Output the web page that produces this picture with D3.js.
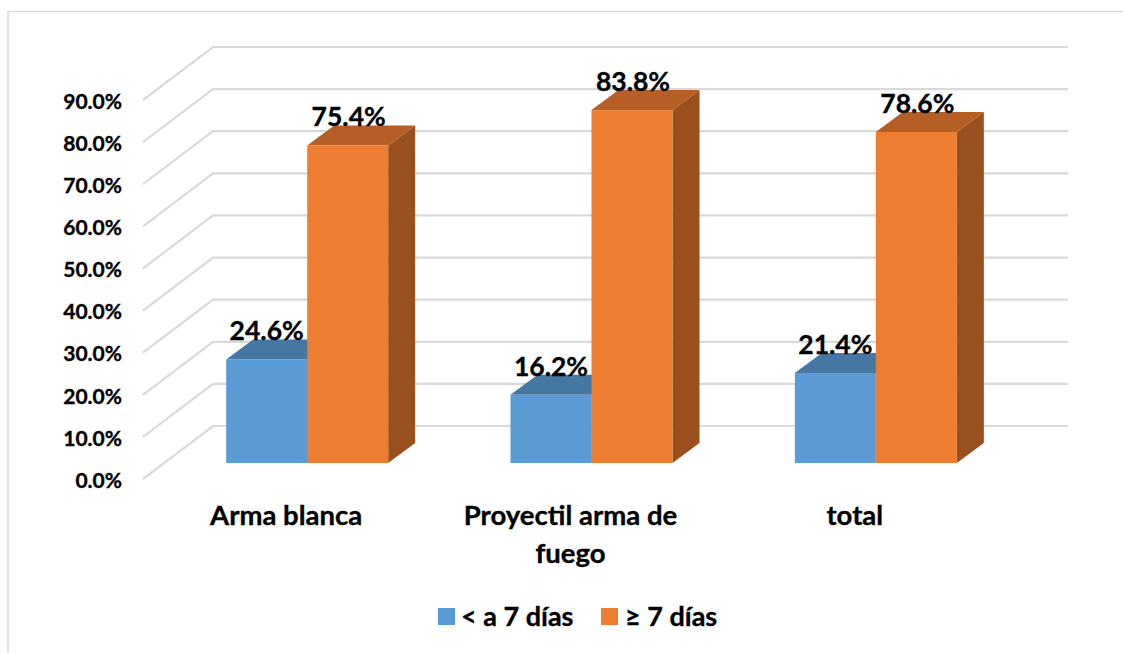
<!DOCTYPE html>
<html>
<head>
<meta charset="utf-8">
<title>Chart</title>
<script src="https://d3js.org/d3.v7.min.js"></script>
<style>
	html, body { margin: 0; padding: 0; background: #fff; }
	svg { display: block; }
	text { font-family: Lato, "Open Sans", sans-serif; font-weight: 700; fill: #000; stroke: #000; stroke-width: 0.35px; }
	.grid { fill: none; stroke: #d9d9d9; stroke-width: 2.2px; }
	.y.axis text { font-size: 21px; }
	.y.axis .domain, .y.axis line { display: none; }
	.cat { font-size: 27.5px; text-anchor: middle; }
	.val { font-size: 26.5px; text-anchor: middle; }
	.leg { font-size: 27px; }
</style>
</head>
<body>
<svg id="chart"></svg>
<script>
var categories = [['Arma blanca'], ['Proyectil arma de', 'fuego'], ['total']];
var seriesNames = ['< a 7 días', '≥ 7 días'];
var menor7 = [24.6, 16.2, 21.4];
var mayor7 = [75.4, 83.8, 78.6];
var ticks = [0, 10, 20, 30, 40, 50, 60, 70, 80, 90];

var _width = 1123, _height = 653,
	_front = '#5b9bd5 #ed7d31'.split(' '),
	_top = '#4676a2 #b55e25'.split(' '),
	_side = '#44739f #9a4f1e'.split(' '),
	// floor of the 3d box
	_floor = {dx: 70, dy: -53},
	_bar = {dx: 27, dy: -20, lift: -16, width: 81};

var _svg = d3.select('#chart').attr('width', _width).attr('height', _height);

// outer frame
_svg.append('path')
	.attr('d', 'M8,653V11.5H1123')
	.attr('fill', 'none')
	.attr('stroke', '#d9d9d9')
	.attr('stroke-width', 1.5);

var _y = d3.scaleLinear().domain([0, 90]).range([479, 100]);
var _x = d3.scaleBand().domain(d3.range(categories.length)).range([165, 1018]).padding(0);

// grid lines, front edge -> back wall -> right end
_svg.append('g').selectAll('path')
	.data(ticks)
	.enter()
	.append('path')
		.attr('class', 'grid')
		.attr('d', function(d){
			var y = _y(d);
			return 'M143,' + y + 'L' + (143 + _floor.dx) + ',' + (y + _floor.dy) + 'H1068';
		});

// y axis
_svg.append('g')
	.attr('class', 'y axis')
	.attr('transform', 'translate(122,1.5)')
	.call(d3.axisLeft(_y).tickValues(ticks).tickSize(0).tickPadding(0).tickFormat(function(d){ return d.toFixed(1) + '%'; }))
	.selectAll('text').attr('fill', '#000');

function barY(v){ return _y(v) + _bar.lift; }

function drawBar(g, x, v, i){
	var y0 = barY(0), y1 = barY(v), w = _bar.width, dx = _bar.dx, dy = _bar.dy;
	// side
	g.append('polygon')
		.attr('points', [[x + w, y1], [x + w + dx, y1 + dy], [x + w + dx, y0 + dy], [x + w, y0]].join(' '))
		.attr('fill', _side[i]);
	// top
	g.append('polygon')
		.attr('points', [[x, y1], [x + dx, y1 + dy], [x + w + dx, y1 + dy], [x + w, y1]].join(' '))
		.attr('fill', _top[i]);
	// front
	g.append('rect')
		.attr('x', x).attr('y', y1)
		.attr('width', w).attr('height', y0 - y1)
		.attr('fill', _front[i]);
}

var _bars = _svg.append('g');
categories.forEach(function(c, k){
	var mid = _x(k) + _x.bandwidth() / 2 + 0;
	drawBar(_bars, mid - _bar.width, menor7[k], 0);
	drawBar(_bars, mid, mayor7[k], 1);
});

// value labels sit on top of every bar
categories.forEach(function(c, k){
	var mid = _x(k) + _x.bandwidth() / 2;
	[menor7[k], mayor7[k]].forEach(function(v, i){
		_svg.append('text')
			.attr('class', 'val')
			.attr('x', mid + (i === 0 ? -_bar.width / 2 : _bar.width / 2) + (i === 0 ? 0 : 1))
			.attr('y', barY(v) - 19)
			.text(v.toFixed(1) + '%');
	});
	// category label
	var t = _svg.append('text').attr('class', 'cat');
	c.forEach(function(line, n){
		t.append('tspan')
			.attr('x', mid - 21)
			.attr('y', 525 + n * 38)
			.text(line);
	});
});

// legend
var _legX = [438, 601], _textX = [461, 625];
seriesNames.forEach(function(s, i){
	_svg.append('rect')
		.attr('x', _legX[i]).attr('y', 608)
		.attr('width', 17).attr('height', 17)
		.attr('fill', _front[i]);
	_svg.append('text')
		.attr('class', 'leg')
		.attr('x', _textX[i])
		.attr('y', 626)
		.text(s);
});
</script>
</body>
</html>
